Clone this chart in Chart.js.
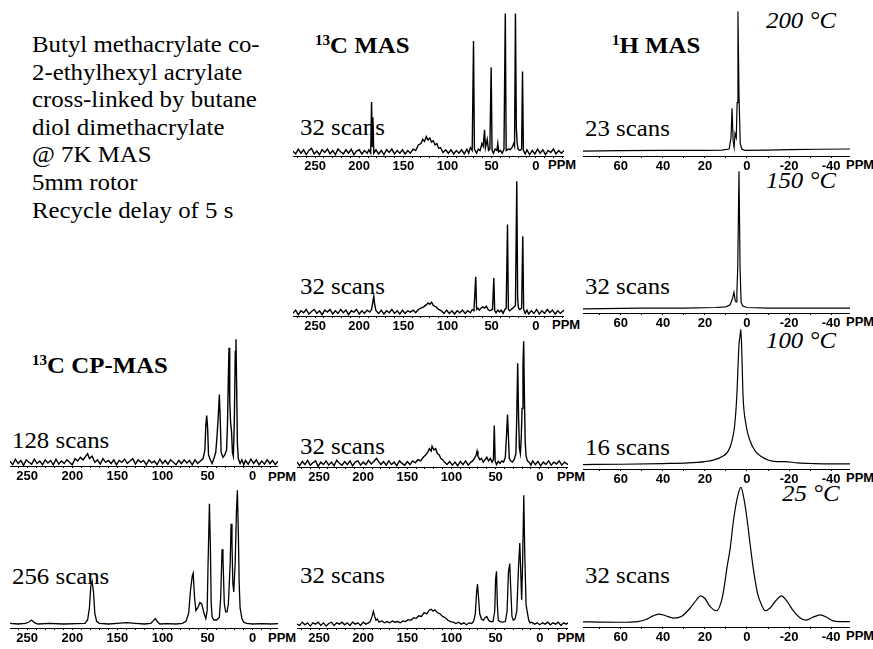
<!DOCTYPE html>
<html>
<head>
<meta charset="utf-8">
<script src="https://cdn.jsdelivr.net/npm/chart.js@4.4.1/dist/chart.umd.min.js"></script>
<style>
  body { margin: 0; background: #fff; }
  #page { position: relative; width: 873px; height: 649px; overflow: hidden; background: #fff;
          font-family: "Liberation Serif", "Times New Roman", serif; color: #000; }
  canvas { position: absolute; }
  .t { position: absolute; white-space: nowrap; font-size: 23px; line-height: 23px;
       transform: scaleX(1.08); transform-origin: left center; }
  .b { font-weight: bold; }
  .i { font-style: italic; }
  .desc { line-height: 27.6px; white-space: pre; }
  sup { font-size: 14px; line-height: 0; vertical-align: 8px; }
  .ppm { position: absolute; font: bold 13px "Liberation Sans", Arial, sans-serif; line-height: 13px; }
</style>
</head>
<body>
<div id="page">
  <div class="t desc" style="left:32px;top:31px">Butyl methacrylate co-
2-ethylhexyl acrylate
cross-linked by butane
diol dimethacrylate
@ 7K MAS
5mm rotor
Recycle delay of 5 s</div>
  <div class="t b" style="left:315px;top:34px"><sup>13</sup>C MAS</div>
  <div class="t b" style="left:612px;top:34px"><sup>1</sup>H MAS</div>
  <div class="t b" style="left:32px;top:354px"><sup>13</sup>C CP-MAS</div>
  <div class="t i" style="left:766px;top:9px">200 °C</div>
  <div class="t i" style="left:766px;top:169px">150 °C</div>
  <div class="t i" style="left:766px;top:329px">100 °C</div>
  <div class="t i" style="left:782px;top:482px">25 °C</div>
  <div class="t" style="left:300px;top:116px">32 scans</div>
  <div class="t" style="left:300px;top:275px">32 scans</div>
  <div class="t" style="left:300px;top:435px">32 scans</div>
  <div class="t" style="left:300px;top:564px">32 scans</div>
  <div class="t" style="left:585px;top:117px">23 scans</div>
  <div class="t" style="left:585px;top:275px">32 scans</div>
  <div class="t" style="left:585px;top:436px">16 scans</div>
  <div class="t" style="left:585px;top:564px">32 scans</div>
  <div class="t" style="left:12px;top:429px">128 scans</div>
  <div class="t" style="left:12px;top:565px">256 scans</div>
  <div class="ppm" style="left:548px;top:158px">PPM</div>
  <div class="ppm" style="left:552px;top:318px">PPM</div>
  <div class="ppm" style="left:557px;top:470px">PPM</div>
  <div class="ppm" style="left:557px;top:631px">PPM</div>
  <div class="ppm" style="left:268px;top:470px">PPM</div>
  <div class="ppm" style="left:268px;top:631px">PPM</div>
  <div class="ppm" style="left:846px;top:158px">PPM</div>
  <div class="ppm" style="left:846px;top:315px">PPM</div>
  <div class="ppm" style="left:846px;top:471px">PPM</div>
  <div class="ppm" style="left:846px;top:629px">PPM</div>
</div>
<script>
// spectra as [ppm, intensity], intensity 100 = tallest peak of the panel

// 13C CP-MAS, 128 scans
const cp128 = [[269,1],[266,-2],[263,2.5],[260,-1],[257,1.5],[254,-2.5],[251,2],[248,0],[245,-1.5],[242,2.5],[239,-1],[236,1],[233,-2],[230,2],[227,-0.5],[224,1.5],[221,-2],[218,2.5],[215,-1.5],[212,1],[209,-1],[206,2],[203,0],[200,-2],[197,3],[194,1],[191,4],[188,2],[185,5],[183,7],[181,3],[178,5],[175,0],[172,2],[169,-1.5],[166,3],[163,0],[160,1.5],[157,-1],[154,2],[151,-2],[148,1.5],[145,0],[142,2.5],[139,-1],[136,1],[133,3],[130,-1.5],[127,2],[124,0],[121,1.5],[118,-2],[115,2],[112,-0.5],[109,1],[106,-2],[103,2.5],[100,-1],[97,1.5],[94,-1.5],[91,2],[88,0],[85,-2],[82,1.5],[79,-1],[76,2],[73,-0.5],[70,1.5],[67,-2],[64,2],[61,-1],[58,1],[55,3],[53,10],[52,30],[51,38],[50,28],[49,6],[47,2],[45,-1],[43,3],[41,8],[39.5,22],[38,40],[37,55],[36,35],[35,8],[33,4],[31,6],[29,10],[28,30],[27,70],[26.3,93],[25.5,50],[24.5,32],[23.5,25],[22.5,8],[21.5,5],[20.5,30],[19.3,90],[18.6,100],[17.8,60],[17,15],[16,3],[14,-1],[12,2],[10,-2],[8,1.5],[5,-1.5],[2,2.5],[-1,-1],[-4,2],[-7,-2],[-10,1],[-13,-1.5],[-16,2],[-19,-1],[-22,1.5],[-25,-2],[-28,1]];

// 13C CP-MAS, 256 scans
const cp256 = [[269,0.5],[260,0],[252,0.5],[248,1.5],[245,3],[242,1],[238,0],[225,0.5],[210,0],[195,0.3],[186,0.5],[183,3],[181,12],[179.5,28],[178,32],[176.5,24],[175,8],[173,2],[170,0.5],[160,0],[150,0.5],[140,1],[130,0.5],[120,0],[113,0.5],[110,2.5],[108,4],[106,2],[103,0],[95,0.3],[85,0],[78,0.5],[74,2],[71,8],[69,25],[67,36],[66,38],[64.5,20],[63,10],[61,12],[58.5,16],[56.5,15],[54,8],[52,4],[50.5,10],[49.5,45],[48,90],[47,60],[46,15],[45,5],[43,3],[40,3],[37,5],[35.5,20],[34,56],[33,50],[31.5,15],[30,9],[28.5,9],[27,15],[25,45],[24,75],[23,60],[22,30],[21,24],[19.5,45],[18,85],[17,100],[16,70],[15,30],[14,12],[12,4],[10,1.5],[7,0.5],[0,0],[-10,0.3],[-20,0],[-28,0.3]];

// 13C MAS 32 scans at 200, 150, 100, 25 C
const mas200 = [[275,0.5],[272,-1.5],[269,2],[266,-1],[263,1.5],[260,-2],[257,1],[254,2.5],[251,-1.5],[248,0.5],[245,-2],[242,1.5],[239,-0.5],[236,2],[233,-1.5],[230,1],[227,-2],[224,2],[221,0],[218,-1.5],[215,1.5],[212,-1],[209,2],[206,-2],[203,0.5],[200,1.5],[197,-1.5],[194,1],[191,-1],[189,1.5],[187,-1],[186,36],[185.2,4],[184.5,25],[183.5,-1],[181,1.5],[178,-1.5],[175,1],[172,-2],[169,1.5],[166,-0.5],[163,2],[160,-1.5],[157,1],[154,-1],[151,1.5],[148,-1.5],[145,1],[142,-1],[139,2],[136,1],[133,5],[130,6],[128,9],[126,7.5],[124,11],[122,8.5],[120,10],[118,7],[116,8],[114,5],[112,6],[110,2.5],[108,3],[105,-0.5],[102,1.5],[99,-1],[96,1.5],[93,-1.5],[90,1],[87,-1],[84,1.5],[81,-1.5],[78,2],[76,-1],[74,3],[72,1],[70.5,80],[69.5,2],[67,-1],[65,2],[63,1],[61,6],[59.5,4],[58,16],[57,3],[55,9],[53.5,1],[52,2],[50.5,61],[49.5,1],[48,-1],[46,2],[44,1],[43,6],[42,0],[40,1],[38,-1],[36,2],[34.5,100],[33.5,1],[31,2],[29,1.5],[27,3],[25,6],[24,4],[23,100],[22,17],[21,6],[20,2],[18,1],[16,2],[15,58],[14,1],[12,-1.5],[10,1.5],[7,-2],[4,1],[1,-1.5],[-2,2],[-5,-1],[-8,1.5],[-11,-2],[-14,1],[-17,-0.5],[-20,2],[-23,-1.5],[-26,1],[-29,-1],[-32,1]];

const mas150 = [[275,-1],[272,1.5],[269,-2],[266,1],[263,-0.5],[260,2],[257,-1.5],[254,0.5],[251,2],[248,-1],[245,1],[242,-2],[239,1.5],[236,0],[233,2],[230,-1.5],[227,1],[224,-1],[221,2],[218,-0.5],[215,1.5],[212,-2],[209,1],[206,0],[203,2],[200,-1.5],[197,1],[194,-1],[191,1.5],[188,0],[186,2],[184.5,8],[183.5,12],[182.5,6],[181,1],[178,-1],[175,1.5],[172,-1.5],[169,1],[166,-0.5],[163,2],[160,-1],[157,1],[154,-1.5],[151,1.5],[148,-1],[145,1],[142,0],[139,1.5],[136,-0.5],[133,2],[130,3],[127,4],[124,5.5],[122,7],[120,6],[118,7.5],[116,5],[113,4],[110,2],[107,1],[104,-1],[101,1.5],[98,-1],[95,1],[92,-1.5],[89,1],[86,-0.5],[83,1.5],[80,-1],[77,1],[74,-0.5],[72,2],[70,1],[68,27],[67,2],[65.5,3],[64,1.5],[62,3],[60,4],[58,3],[56,4.5],[54,2],[52,1],[49,2],[47.5,26],[46.5,1],[45,-0.5],[43,1.5],[41,0],[39,1.5],[37,-1],[35,2],[33.5,3],[32,67],[31,2],[29.5,1],[28,2],[26,3],[23,5],[21.5,100],[20.5,10],[19.5,3],[18,2],[16,3],[14.7,58],[13.7,2],[12,-1],[10,1.5],[8,-1.5],[5,1],[2,-1],[-1,2],[-4,-1.5],[-7,1],[-10,-1],[-13,2],[-16,-0.5],[-19,1.5],[-22,-1.5],[-25,1],[-28,-1],[-32,1.5]];

const mas100 = [[275,1],[272,-2],[269,1.5],[266,-1],[263,2.5],[260,-1.5],[257,0.5],[254,2],[251,-2.5],[248,1],[245,-1],[242,2],[239,-1.5],[236,1],[233,-2],[230,2.5],[227,0],[224,-1.5],[221,1.5],[218,-1],[215,2],[212,-2],[209,1],[206,2],[203,-1.5],[200,1],[197,-1],[194,2.5],[191,-0.5],[188,1.5],[185,4],[183,2],[180,-1],[177,1.5],[174,-1.5],[171,2],[168,-1],[165,1],[162,-2],[159,2],[156,0],[153,-1.5],[150,1.5],[147,-1],[144,2],[141,0.5],[138,3],[135,2],[132,5],[129,7],[127,9],[125,12],[123,10],[122,14],[120,11],[118,12],[116,8],[114,7],[112,4],[110,3],[108,1],[105,-1],[102,1.5],[99,-1.5],[96,1],[93,-2],[90,1.5],[87,-1],[84,2],[81,-1.5],[78,1],[76,2],[74,4],[72,7],[71,10],[70,6],[68,3],[66,4],[64,1],[62,3],[60,5],[58,2],[56,4],[54,1],[52.5,3],[51.5,31],[50.5,2],[49,-1],[47,1.5],[45,0],[43,2],[41,1],[39,5],[37.5,25],[36.5,40],[35.5,22],[34.5,4],[33,2],[31,1],[29,3],[27,8],[26,40],[25,82],[24,38],[23,12],[22,8],[21,20],[20,45],[19,80],[18.2,100],[17.4,55],[16.5,18],[15.5,6],[14,2],[12,1],[10,-1.5],[8,2],[5,-1],[2,1.5],[-1,-2],[-4,1],[-7,-1],[-10,2],[-13,-1.5],[-16,1],[-19,-0.5],[-22,2],[-25,-1.5],[-28,1],[-32,-1]];

const mas25 = [[275,0],[272,-1],[269,1.5],[266,-0.5],[263,1],[260,-1.5],[257,1],[254,0],[251,1.5],[248,-1],[245,1],[242,-1.5],[239,0.5],[236,1.5],[233,-1],[230,1],[227,0],[224,1.5],[221,-0.5],[218,1],[215,-1],[212,1.5],[209,0],[206,1],[203,-1],[200,1.5],[197,0],[194,1],[192,2],[190,6],[188.5,10],[187,6],[185.5,3],[184,4],[182,1.5],[179,2.5],[176,1],[173,2],[170,1],[167,2.5],[164,1.5],[161,2],[158,1],[155,2.5],[152,2],[149,3.5],[146,3],[143,5],[140,4.5],[137,6.5],[134,6],[131,9],[128,8],[125,11],[123,11.5],[121,10],[119,11],[116,9],[113,8],[110,6],[107,5],[104,3],[101,2],[98,1.5],[95,0.5],[92,1.5],[89,0],[86,1],[83,-0.5],[80,1],[77,0.5],[75,2],[73,8],[71.5,25],[70.5,31],[69.5,22],[68,8],[66,4],[64,3],[62,5],[60,6],[58,3],[56,2],[53,2],[51,10],[50,35],[49,41],[48,15],[47,3],[45,2],[42,1.5],[39,2],[37,10],[35.5,40],[34,47],[33,30],[31.5,6],[30,3],[28,4],[26,10],[24,45],[22.6,63],[21.5,40],[20.5,19],[19.5,45],[18.1,100],[17,55],[15.5,15],[14,9],[12.5,3],[11,1],[9,1.5],[6,0],[3,1],[0,-0.5],[-3,1],[-6,0],[-9,1.5],[-12,-0.5],[-15,1],[-18,0],[-21,1.5],[-24,-1],[-27,1],[-30,0],[-32,1]];

// 1H MAS at 200, 150, 100, 25 C
const h200 = [[78,0.5],[60,0.8],[40,1],[20,1],[12,1.2],[8.5,2],[7.6,10],[7.1,31],[6.6,8],[6.1,3],[5.7,13],[5.1,10],[4.7,35],[4.3,100],[3.8,40],[3.2,6],[2.5,2],[1,1],[-10,1.2],[-20,1.5],[-35,1.8],[-49,2]];
const h150 = [[78,0],[50,0.5],[30,0.5],[15,1],[10,1.5],[8,3],[6.8,8],[6.2,12],[5.6,6],[5.2,5],[4.8,12],[4.4,30],[3.8,100],[3.3,30],[2.8,5],[2,2],[0,1],[-10,0.5],[-30,0.5],[-49,0.5]];
const h100 = [[78,0.3],[60,0.5],[40,1],[28,1.5],[20,2.5],[16,3.6],[12,6],[9,10],[7.1,18],[5.8,30],[4.8,52],[3.8,89],[3.3,95],[2.9,100],[2.4,80],[1.9,52],[0.5,30],[-1.4,18],[-4,10],[-7,6],[-10,3.6],[-14,2.5],[-18,2.5],[-24,1.5],[-32,1],[-40,0.8],[-49,0.8]];
const h25 = [[78,0.8],[70,0.6],[60,0.5],[52,1],[48,2.5],[45,5],[42,6.5],[39,5.5],[35,3.6],[31,5],[27,11],[24,17],[22,20],[20,18],[17.5,12],[14.5,9],[12,17],[10.5,30],[9.6,40],[8,55],[6.3,77],[4.5,93],[2.9,100],[1.5,92],[0,77],[-1.5,58],[-3,40],[-5,22],[-7,13],[-8.7,9],[-11,11],[-13.5,16],[-16.4,20],[-19,16],[-22,9],[-25,4],[-28,2],[-31,4],[-35,6],[-38,4],[-41,1.5],[-44,1],[-49,1]];

// where each spectrum sits on the page (chart area left/top, axis line y, width)
const panels = [
  { data: cp128,  left: 10,  top: 338, axis: 466, width: 268, min: -28, max: 269, label: 50, lw: 1.4 },
  { data: cp256,  left: 10,  top: 489, axis: 628, width: 268, min: -28, max: 269, label: 50, lw: 1.3 },
  { data: mas200, left: 293, top: 12,  axis: 156, width: 271, min: -32, max: 275, label: 50, lw: 1.4 },
  { data: mas150, left: 293, top: 180, axis: 316, width: 271, min: -32, max: 275, label: 50, lw: 1.4 },
  { data: mas100, left: 297, top: 340, axis: 467, width: 271, min: -32, max: 275, label: 50, lw: 1.4 },
  { data: mas25,  left: 297, top: 494, axis: 628, width: 271, min: -32, max: 275, label: 50, lw: 1.3 },
  { data: h200,   left: 583, top: 10,  axis: 156, width: 267, min: -49, max: 78,  label: 20, lw: 1.2 },
  { data: h150,   left: 583, top: 170, axis: 313, width: 267, min: -49, max: 78,  label: 20, lw: 1.2 },
  { data: h100,   left: 583, top: 328, axis: 469, width: 267, min: -49, max: 78,  label: 20, lw: 1.2, smooth: true },
  { data: h25,    left: 583, top: 486, axis: 627, width: 267, min: -49, max: 78,  label: 20, lw: 1.2, smooth: true }
];

const AXIS_H = 22;
const page = document.getElementById('page');

panels.forEach(p => {
  const canvas = document.createElement('canvas');
  const h = p.axis - p.top + AXIS_H;
  canvas.width = p.width;
  canvas.height = h;
  canvas.style.left = p.left + 'px';
  canvas.style.top = p.top + 'px';
  canvas.style.width = p.width + 'px';
  canvas.style.height = h + 'px';
  page.appendChild(canvas);

  new Chart(canvas.getContext('2d'), {
    type: 'line',
    data: {
      datasets: [{
        data: p.data.map(d => ({ x: d[0], y: d[1] })),
        borderColor: '#000',
        borderWidth: p.lw,
        pointRadius: 0,
        tension: p.smooth ? 0.4 : 0,
        cubicInterpolationMode: p.smooth ? 'monotone' : 'default',
        fill: false
      }]
    },
    options: {
      responsive: false,
      animation: false,
      devicePixelRatio: 1,
      layout: { padding: 0 },
      plugins: { legend: { display: false }, tooltip: { enabled: false } },
      scales: {
        x: {
          type: 'linear',
          reverse: true,
          min: p.min,
          max: p.max,
          afterFit: scale => { scale.height = AXIS_H; },
          border: { display: true, color: '#000', width: 1 },
          grid: { drawOnChartArea: false, drawTicks: true, tickLength: 2, color: '#000' },
          ticks: {
            stepSize: 10,
            includeBounds: false,
            autoSkip: false,
            maxRotation: 0,
            padding: 1,
            color: '#000',
            font: { family: 'Liberation Sans', weight: 'bold', size: 13 },
            callback: v => (v % p.label === 0 ? String(v) : '')
          }
        },
        y: { display: false, min: -3, max: 101 }
      }
    }
  });
});
</script>
</body>
</html>
